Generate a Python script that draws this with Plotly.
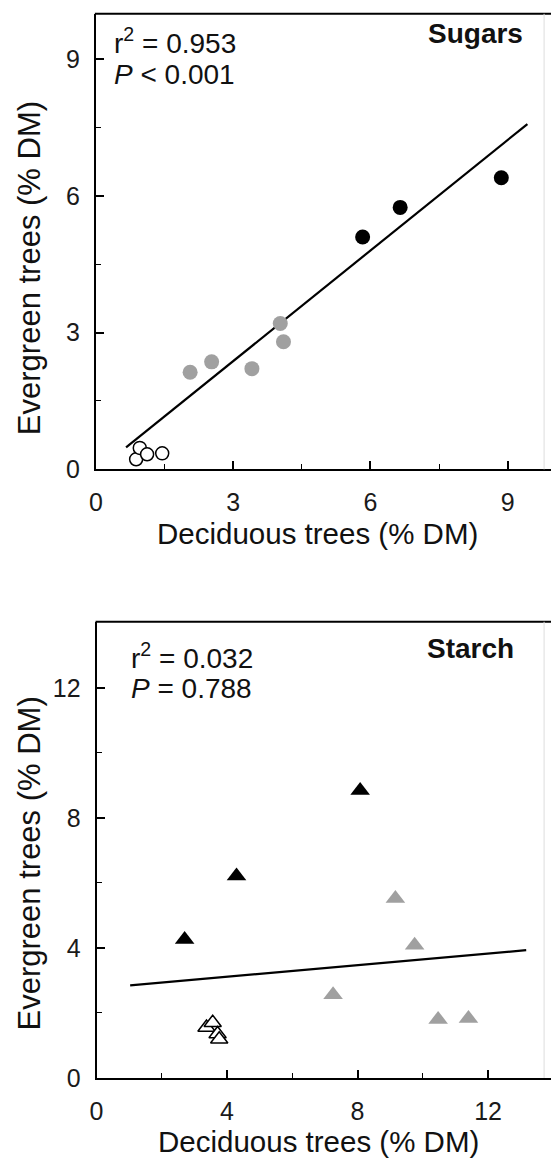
import plotly.graph_objects as go

W, H = 551, 1170
FONT = "Liberation Sans, Arial, sans-serif"

# ---------------- data: Sugars (top panel) ----------------
sug_black_x = [5.83, 6.65, 8.86]
sug_black_y = [5.10, 5.75, 6.40]
sug_gray_x = [2.06, 2.53, 3.41, 4.03, 4.10]
sug_gray_y = [2.13, 2.36, 2.21, 3.20, 2.80]
sug_open_x = [0.88, 0.96, 1.12, 1.45]
sug_open_y = [0.22, 0.47, 0.33, 0.35]
sug_fit_x = [0.66, 9.43]
sug_fit_y = [0.48, 7.58]
sug_ticks = [0, 3, 6, 9]

# ---------------- data: Starch (bottom panel) ----------------
sta_black_x = [2.70, 4.29, 8.08]
sta_black_y = [4.26, 6.21, 8.84]
sta_gray_x = [7.25, 9.16, 9.75, 10.47, 11.40]
sta_gray_y = [2.56, 5.52, 4.08, 1.80, 1.83]
sta_open_x = [3.37, 3.56, 3.71, 3.76]
sta_open_y = [1.55, 1.70, 1.35, 1.19]
sta_fit_x = [1.03, 13.17]
sta_fit_y = [2.85, 3.93]
sta_ticks = [0, 4, 8, 12]

x_title = "Deciduous trees (% DM)"
y_title = "Evergreen trees (% DM)"
sug_label, sug_r2, sug_p = "Sugars", "r<sup>2</sup> = 0.953", "<i>P</i> &lt; 0.001"
sta_label, sta_r2, sta_p = "Starch", "r<sup>2</sup> = 0.032", "<i>P</i> = 0.788"

GRAY = "#a0a0a0"


def px_x(p):
    return p / W


def px_y(p):
    return 1 - p / H


fig = go.Figure()

# top panel traces (x, y)
fig.add_trace(go.Scatter(x=sug_fit_x, y=sug_fit_y, mode="lines",
                         line=dict(color="black", width=2.2), xaxis="x", yaxis="y"))
fig.add_trace(go.Scatter(x=sug_gray_x, y=sug_gray_y, mode="markers",
                         marker=dict(symbol="circle", size=15, color=GRAY, line=dict(width=0)),
                         xaxis="x", yaxis="y"))
fig.add_trace(go.Scatter(x=sug_black_x, y=sug_black_y, mode="markers",
                         marker=dict(symbol="circle", size=15, color="black", line=dict(width=0)),
                         xaxis="x", yaxis="y"))
fig.add_trace(go.Scatter(x=sug_open_x, y=sug_open_y, mode="markers",
                         marker=dict(symbol="circle", size=13, color="white",
                                     line=dict(width=1.5, color="black")),
                         xaxis="x", yaxis="y"))

# bottom panel traces (x2, y2)
fig.add_trace(go.Scatter(x=sta_fit_x, y=sta_fit_y, mode="lines",
                         line=dict(color="black", width=2.2), xaxis="x2", yaxis="y2"))
fig.add_trace(go.Scatter(x=sta_gray_x, y=sta_gray_y, mode="markers",
                         marker=dict(symbol="triangle-up", size=17, color=GRAY, line=dict(width=0)),
                         xaxis="x2", yaxis="y2"))
fig.add_trace(go.Scatter(x=sta_black_x, y=sta_black_y, mode="markers",
                         marker=dict(symbol="triangle-up", size=17, color="black", line=dict(width=0)),
                         xaxis="x2", yaxis="y2"))
fig.add_trace(go.Scatter(x=sta_open_x, y=sta_open_y, mode="markers",
                         marker=dict(symbol="triangle-up", size=15, color="white",
                                     line=dict(width=1.5, color="black")),
                         xaxis="x2", yaxis="y2"))

tickfont = dict(family=FONT, size=25, color="#1a1a1a")

common_x = dict(showline=True, linecolor="black", linewidth=2, ticks="inside", ticklen=8,
                tickwidth=1.5, tickcolor="black", showgrid=False, zeroline=False,
                tickfont=tickfont, ticklabelstandoff=10, fixedrange=True)
common_y = dict(showline=True, linecolor="black", linewidth=2, ticks="inside", ticklen=8,
                tickwidth=1.5, tickcolor="black", showgrid=False, zeroline=False,
                tickfont=tickfont, ticklabelstandoff=9, fixedrange=True)

top_x0, top_x1 = 90, 551
top_y0, top_y1 = 475, 14
bot_x0, bot_x1 = 90.7, 551
bot_y0, bot_y1 = 1091, 629.3

fig.update_layout(
    width=W, height=H,
    margin=dict(l=0, r=0, t=0, b=0),
    paper_bgcolor="white", plot_bgcolor="white",
    showlegend=False,
    xaxis=dict(domain=[px_x(top_x0), px_x(top_x1)], range=[0, 9.946],
               tickvals=sug_ticks, minor=dict(ticks="inside", ticklen=5, dtick=1.5, tick0=0,
                                              tickcolor="black", tickwidth=1.2),
               anchor="y", **common_x),
    yaxis=dict(domain=[px_y(top_y0), px_y(top_y1)], range=[0, 10.0],
               tickvals=sug_ticks, minor=dict(ticks="inside", ticklen=5, dtick=1.5, tick0=0,
                                              tickcolor="black", tickwidth=1.2),
               anchor="x", **common_y),
    xaxis2=dict(domain=[px_x(bot_x0), px_x(bot_x1)], range=[0, 13.93],
                tickvals=sta_ticks, minor=dict(ticks="inside", ticklen=5, dtick=2, tick0=0,
                                               tickcolor="black", tickwidth=1.2),
                anchor="y2", **common_x),
    yaxis2=dict(domain=[px_y(bot_y0), px_y(bot_y1)], range=[0, 14.03],
                tickvals=sta_ticks, minor=dict(ticks="inside", ticklen=5, dtick=2, tick0=0,
                                               tickcolor="black", tickwidth=1.2),
                anchor="x2", **common_y),
)

# top borders and faint right edges
shapes = []
for (x0, y1) in [(top_x0, top_y1), (bot_x0, bot_y1)]:
    shapes.append(dict(type="line", xref="paper", yref="paper",
                       x0=px_x(x0 - 1), x1=1, y0=px_y(y1), y1=px_y(y1),
                       line=dict(color="black", width=2)))
for (ya, yb) in [(top_y1, top_y0), (bot_y1, bot_y0)]:
    shapes.append(dict(type="line", xref="paper", yref="paper",
                       x0=px_x(544), x1=px_x(544), y0=px_y(ya), y1=px_y(yb),
                       line=dict(color="#dddddd", width=1)))
fig.update_layout(shapes=shapes)

ann = []


def txt(text, x, y, size, xanchor="left", yanchor="bottom", angle=0, bold=False):
    if bold:
        text = "<b>" + text + "</b>"
    ann.append(dict(text=text, x=px_x(x), y=px_y(y), xref="paper", yref="paper",
                    xanchor=xanchor, yanchor=yanchor, showarrow=False, textangle=angle,
                    font=dict(family=FONT, size=size, color="#111111")))


# panel stats and labels
txt(sug_r2, 106, 62, 28)
txt(sug_p, 106, 93, 28)
txt(sug_label, 525, 52, 28, xanchor="right", bold=True)
txt(sta_r2, 124, 684, 28)
txt(sta_p, 124, 715, 28)
txt(sta_label, 516, 674, 28, xanchor="right", bold=True)

# axis titles
txt(x_title, 315, 559, 29.5, xanchor="center")
txt(x_title, 315.4, 1174, 29.5, xanchor="center")
txt(y_title, 23, 271.7, 31, xanchor="center", yanchor="middle", angle=-90)
txt(y_title, 23, 874.2, 31, xanchor="center", yanchor="middle", angle=-90)

fig.update_layout(annotations=ann)

fig.write_html("out.html")
